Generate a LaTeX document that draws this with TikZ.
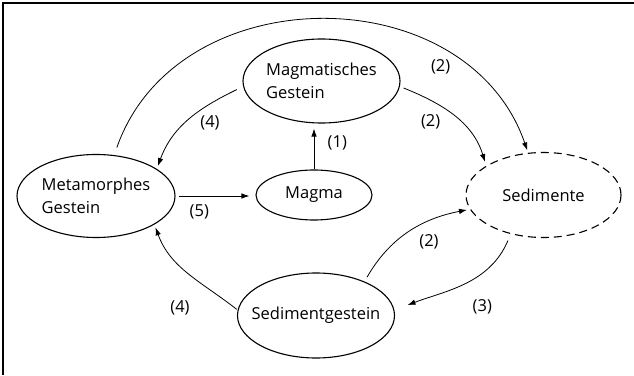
\documentclass[tikz,border=0pt]{standalone}
\usepackage{fontspec}
\setmainfont{Open Sans}
\usetikzlibrary{arrows.meta,shapes.geometric}
\begin{document}
\begin{tikzpicture}[x=1pt,y=1pt,
  ell/.style={ellipse, draw, line width=1.1pt, inner sep=0pt},
  txt/.style={font=\fontsize{16.5}{23.5}\selectfont, align=left, inner sep=0pt},
  lab/.style={font=\fontsize{16.5}{20}\selectfont, inner sep=0pt},
  arr/.style={-{Latex[length=8pt,width=5.5pt]}, line width=0.8pt},
]
\useasboundingbox (0,0) rectangle (634,375);
\draw[line width=1.3pt] (3,0) -- (3,372) -- (634,372);

\node[ell, minimum width=157pt, minimum height=84pt,
  label={[txt]center:Magmatisches\\Gestein}] (M) at (321.5,294) {};
\node[ell, minimum width=158pt, minimum height=83pt,
  label={[txt]center:Metamorphes\\Gestein}] (T) at (96,179) {};
\node[ell, minimum width=116pt, minimum height=50pt,
  label={[txt]center:Magma}] (G) at (314,180) {};
\node[ell, dash pattern=on 8pt off 5pt, minimum width=155pt, minimum height=85pt,
  label={[txt]center:Sedimente}] (S) at (543.5,180) {};
\node[ell, minimum width=157pt, minimum height=85pt,
  label={[txt]center:Sedimentgestein}] (R) at (316,59.5) {};

\draw[arr, shorten <=8pt, shorten >=2.5pt] (T.66.4) .. controls (177,399) and (467,399) .. (S.110.6);
\draw[arr, shorten <=7pt, shorten >=3pt] (M.184.7) to[out=206,in=70] (T.24.7);
\draw[arr, shorten <=4pt, shorten >=4pt] (M.-4.9) to[out=-22,in=107] (S.153.9);
\draw[arr, shorten >=5pt] (G.north) -- (G.north |- M.south);
\draw[arr, shorten <=3pt, shorten >=6pt] (T.east) -- (T.east -| G.west);
\draw[arr, shorten <=1pt, shorten >=3pt] (R.176) to[out=142,in=-70] (T.-26.6);
\draw[arr, shorten <=5pt, shorten >=3pt] (R.35.8) to[out=60,in=191] (S.191.5);
\draw[arr, shorten <=7pt, shorten >=14pt] (S.230) to[out=247,in=20.7] (R.4);

\node[lab] (l1) at (440.7,308) {(2)};
\node[lab] (l2) at (210,251.7) {(4)};
\node[lab] (l3) at (430.7,253.3) {(2)};
\node[lab] (l4) at (337.3,232.3) {(1)};
\node[lab] (l5) at (199.3,162.7) {(5)};
\node[lab] (l6) at (180,67.3) {(4)};
\node[lab] (l7) at (429,132.7) {(2)};
\node[lab] (l8) at (482.3,68.3) {(3)};
\end{tikzpicture}
\end{document}
